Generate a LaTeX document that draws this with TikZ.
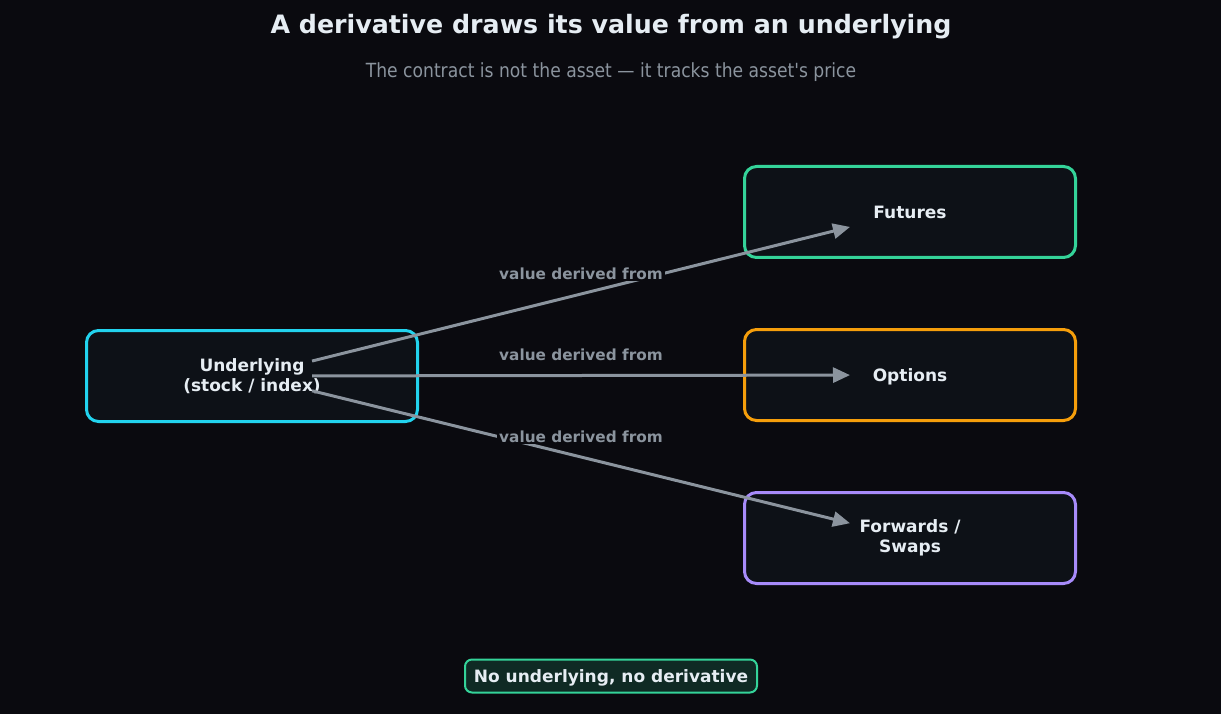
\documentclass[tikz,border=0pt]{standalone}
\usepackage{fontspec}
\setmainfont{DejaVu Sans}
\newfontfamily\subfont[FakeStretch=0.88]{DejaVu Sans}
\usetikzlibrary{arrows.meta,calc}
\definecolor{bg}{HTML}{0A0A0F}
\definecolor{boxfill}{HTML}{0D1117}
\definecolor{txt}{HTML}{E6EDF3}
\definecolor{muted}{HTML}{8B949E}
\definecolor{ccyan}{HTML}{22D3EE}
\definecolor{cgreen}{HTML}{34D399}
\definecolor{corange}{HTML}{F59E0B}
\definecolor{cpurple}{HTML}{A78BFA}
\definecolor{notefill}{HTML}{0F2A24}
\tikzset{
  entity/.style={draw=#1, line width=3pt, rounded corners=12pt, fill=boxfill,
    minimum width=331pt, minimum height=91pt, inner sep=0pt, text=txt,
    align=center, font=\fontsize{17}{20.4}\selectfont\bfseries},
  link/.style={draw=muted, line width=3pt, -{Triangle[length=17pt,width=15pt]}},
  linklabel/.style={text=muted, fill=bg, inner sep=2pt, font=\fontsize{15.3}{18}\selectfont\bfseries},
}
\begin{document}
\begin{tikzpicture}[x=1pt,y=-1pt]
\useasboundingbox[fill=bg] (0,0) rectangle (1221,714);
\node[text=txt, font=\fontsize{25.3}{30}\selectfont\bfseries] (title) at (611,27) {A derivative draws its value from an underlying};
\node[text=muted, font=\subfont\fontsize{19.5}{23}\selectfont] (sub) at (611,72) {The contract is not the asset — it tracks the asset's price};

\node[entity=ccyan] (u) at (252,376) {Underlying\\(stock / index)};
\node[entity=cgreen] (f) at (910,212) {Futures};
\node[entity=corange, text depth=0pt] (o) at (910,375) {Options};
\node[entity=cpurple] (w) at (910,538) {Forwards /\\Swaps};

\foreach \t in {f,o,w}{
  \draw[link] ($(u.center)!0.0912!(\t.center)$) -- ($(u.center)!0.9088!(\t.center)$);
}
\node[linklabel] (lf) at ($($(u.center)!0.5!(f.center)$)+(0,-20.5)$) {value derived from};
\node[linklabel] (lo) at ($($(u.center)!0.5!(o.center)$)+(0,-20.5)$) {value derived from};
\node[linklabel] (lw) at ($($(u.center)!0.5!(w.center)$)+(0,-20.5)$) {value derived from};

\node[draw=cgreen, line width=2pt, fill=notefill, rounded corners=7pt, text=txt,
  minimum width=292pt, minimum height=33pt, inner sep=0pt, text depth=0pt,
  font=\fontsize{17}{20}\selectfont\bfseries] (note) at (611,676) {No underlying, no derivative};
\end{tikzpicture}
\end{document}
